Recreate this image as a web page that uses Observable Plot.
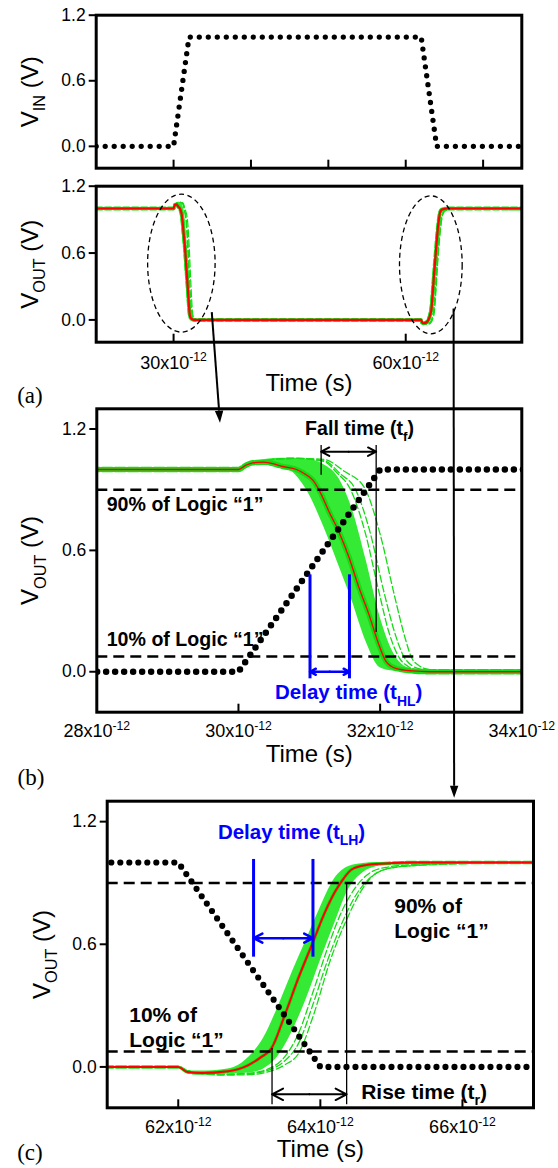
<!DOCTYPE html>
<html><head><meta charset="utf-8">
<script src="https://cdn.jsdelivr.net/npm/d3@7"></script>
<script src="https://cdn.jsdelivr.net/npm/@observablehq/plot@0.6"></script>
<style>
html,body{margin:0;padding:0;background:#fff;}
#wrap{position:relative;width:558px;height:1168px;overflow:hidden;}
</style></head><body><div id="wrap"></div>
<script>
// ---------------- DATA (time in ps, voltage in V) ----------------
const inputT = [20, 30, 32, 62, 64, 75];
const inputV = [0, 0, 1, 1, 0, 0];

const redT = [20, 30.0, 30.1, 30.2, 30.35, 30.5, 30.6, 30.82, 30.95, 31.05, 31.14, 31.28, 31.42, 31.56, 31.70, 31.84, 31.98, 32.08, 32.22, 32.46, 32.7,
  62.0, 62.13, 62.32, 62.7, 62.98, 63.17, 63.31, 63.5, 63.69, 63.88, 64.07, 64.21, 64.30, 64.44, 64.63, 64.92, 65.3, 75];
const redV = [1, 1, 1.02, 1.033, 1.036, 1.028, 1.017, 1.0, 0.975, 0.947, 0.897, 0.79, 0.69, 0.566, 0.417, 0.285, 0.136, 0.053, 0.017, 0.004, 0,
  0, -0.025, -0.03, -0.021, 0.008, 0.049, 0.09, 0.254, 0.434, 0.597, 0.761, 0.859, 0.908, 0.966, 0.987, 0.995, 1.0, 1.0];

// dense Monte-Carlo band (falling edge)
const bandFallT  = [30.0, 30.2, 30.4, 30.6, 30.8, 31.0, 31.2, 31.4, 31.6, 31.8, 32.0, 32.2, 32.4, 32.6, 32.8];
const bandFallLo = [1.0, 1.03, 1.033, 1.013, 0.975, 0.875, 0.72, 0.54, 0.355, 0.15, 0.02, 0.003, 0.0, 0.0, 0.0];
const bandFallHi = [1.0, 1.035, 1.05, 1.055, 1.055, 1.05, 1.025, 0.965, 0.81, 0.555, 0.27, 0.085, 0.018, 0.005, 0.0];
// dense Monte-Carlo band (rising edge)
const bandRiseT  = [62.0, 62.2, 62.4, 62.6, 62.8, 63.0, 63.2, 63.4, 63.6, 63.8, 64.0, 64.2, 64.4, 64.6, 64.8, 65.0, 65.4];
const bandRiseLo = [0, -0.028, -0.034, -0.036, -0.034, -0.03, -0.01, 0.05, 0.17, 0.33, 0.52, 0.70, 0.87, 0.95, 0.98, 0.99, 1.0];
const bandRiseHi = [0, -0.02, -0.02, -0.015, 0.0, 0.05, 0.14, 0.29, 0.46, 0.62, 0.78, 0.92, 0.98, 0.995, 1.0, 1.0, 1.0];

// sparse, late Monte-Carlo curves
const greenFallA = [[30.0,1.0],[30.3,1.04],[30.8,1.055],[31.2,1.05],[31.5,0.99],[31.78,0.909],[32.0,0.68],[32.2,0.38],[32.35,0.17],[32.44,0.073],[32.55,0.03],[32.7,0.01],[32.9,0]];
const greenFallB = [[30.0,1.0],[30.3,1.04],[30.8,1.055],[31.2,1.045],[31.45,0.975],[31.64,0.909],[31.85,0.7],[32.05,0.4],[32.2,0.2],[32.32,0.085],[32.45,0.03],[32.6,0.01],[32.8,0]];
const greenFallC = [[30.0,1.0],[30.3,1.04],[30.8,1.055],[31.2,1.04],[31.4,0.98],[31.57,0.909],[31.78,0.7],[31.98,0.4],[32.12,0.2],[32.26,0.075],[32.4,0.025],[32.55,0.008],[32.75,0]];
const greenRiseA = [[62.0,0],[62.2,-0.025],[62.6,-0.04],[63.0,-0.038],[63.3,-0.02],[63.5,0.01],[63.7,0.07],[63.9,0.25],[64.15,0.532],[64.38,0.728],[64.57,0.859],[64.76,0.941],[65.0,0.974],[65.33,0.985],[65.8,0.992],[66.5,1.0]];
const greenRiseB = [[62.0,0],[62.2,-0.025],[62.6,-0.037],[63.0,-0.033],[63.3,-0.012],[63.5,0.03],[63.7,0.12],[63.9,0.31],[64.1,0.52],[64.3,0.7],[64.5,0.84],[64.7,0.925],[64.95,0.97],[65.3,0.985],[65.8,0.995],[66.3,1.0]];
const greenRiseC = [[62.0,0],[62.2,-0.025],[62.6,-0.036],[63.0,-0.03],[63.3,-0.005],[63.5,0.05],[63.7,0.17],[63.9,0.37],[64.1,0.58],[64.3,0.76],[64.5,0.88],[64.7,0.95],[64.95,0.978],[65.3,0.99],[66.0,1.0]];

// axes
const yTicks = [0, 0.6, 1.2];
const ticksTop = [30, 40, 50, 60, 70];
const ticksA = [30, 60];
const ticksB = [28, 30, 32, 34];
const ticksInB = [30, 32];
const ticksC = [62, 64, 66];
const logicLevels = [0.9, 0.075];

// annotations (data coordinates)
const fallTimeLines = [{t: 31.167, y1: 0.972, y2: 1.118}, {t: 31.944, y1: 0.194, y2: 1.118}];
const fallTimeArrowY = 1.088;
const delayHLLines = [{t: 31.01, y1: -0.035, y2: 0.479}, {t: 31.567, y1: -0.035, y2: 0.479}];
const delayHLArrowY = 0.0;
const delayLHLines = [{t: 63.06, y1: 0.537, y2: 1.015}, {t: 63.896, y1: 0.537, y2: 1.015}];
const delayLHArrowY = 0.63;
const riseTimeLines = [{t: 63.32, y1: -0.185, y2: 0.09}, {t: 64.37, y1: -0.185, y2: 0.9}];
const riseTimeArrowY = -0.134;
const labelsBStart = [{t: 28.14, v: 0.826, s: "90% of Logic “1”"}, {t: 28.14, v: 0.157, s: "10% of Logic “1”"}];
const labelsBMid = [{t: 31.71, v: 1.2, s: "Fall time (t_{f})"}];
const labelsBBlue = [{t: 31.555, v: -0.104, s: "Delay time (t_{HL})"}];
const labelsCStart = [{t: 65.04, v: 0.7325, s: "90% of\nLogic “1”"}, {t: 61.31, v: 0.2, s: "10% of\nLogic “1”"}];
const labelsCMid = [{t: 65.46, v: -0.123, s: "Rise time (t_{r})"}];
const labelsCBlue = [{t: 63.594, v: 1.146, s: "Delay time (t_{LH})"}];
const zoomRegions = [{t: 31.07, v: 0.505, dt: 4.36, dv: 0.619}, {t: 63.31, v: 0.49, dt: 4.05, dv: 0.619}];
const zoomLinks = [{from: [35.0, 0.066], to: [29.746, 1.229], target: "b"}, {from: [66.25, 0.099], to: [65.89, 1.315], target: "c"}];

// ---------------- BUILD ----------------
const W = 558;
const FONT = "'Liberation Sans', Arial, Helvetica, sans-serif";
const GREEN = "#14dc14", GREEN_FILL = "#34ea34", RED = "#ff0000", BLUE = "#0000ff";
const STYLE = {background: "transparent", fontFamily: FONT, fontSize: "17px", color: "black", overflow: "visible"};

const inputData = inputT.map((t, i) => ({t, v: inputV[i]}));
const redData = redT.map((t, i) => ({t, v: redV[i]}));
const bandFall = bandFallT.map((t, i) => ({t, lo: bandFallLo[i], hi: bandFallHi[i]}));
const bandRise = bandRiseT.map((t, i) => ({t, lo: bandRiseLo[i], hi: bandRiseHi[i]}));
const sparse = [greenFallA, greenFallB, greenFallC, greenRiseA, greenRiseB, greenRiseC];

function axisMarks(P, inTicks, lblTicks, title, titleDx, lblDy, timeDy) {
  const innerW = W - P.ml - P.mr, innerH = P.height - P.mt - P.mb;
  const m = [
    Plot.ruleY(yTicks, {y: d => d, insetLeft: -7, insetRight: innerW, strokeWidth: 2}),
    Plot.text(yTicks, {y: d => d, frameAnchor: "left", dx: -10.5, textAnchor: "end", lineAnchor: "middle", fontSize: 17.5, text: d => d3.format(".1f")(d)}),
    Plot.text([title], {frameAnchor: "left", dx: titleDx, rotate: -90, fontSize: 24, textAnchor: "middle", lineAnchor: "middle"}),
    Plot.ruleX(inTicks, {x: d => d, insetTop: innerH - 8, strokeWidth: 2})
  ];
  if (lblTicks.length) {
    m.push(Plot.text(lblTicks, {x: d => d, frameAnchor: "bottom", dy: lblDy, lineAnchor: "middle", fontSize: 18, text: d => `${d}x10^{-12}`}));
    m.push(Plot.text(["Time (s)"], {frameAnchor: "bottom", dy: timeDy, fontSize: 24, lineAnchor: "middle"}));
  }
  return m;
}

function outputMarks(o) {
  return [
    Plot.areaY(bandFall, {x: "t", y1: "lo", y2: "hi", fill: GREEN_FILL, curve: "monotone-x", clip: true}),
    Plot.areaY(bandRise, {x: "t", y1: "lo", y2: "hi", fill: GREEN_FILL, curve: "monotone-x", clip: true}),
    ...sparse.map(c => Plot.line(c, {x: d => d[0], y: d => d[1], stroke: GREEN, strokeWidth: o.sparseW, strokeDasharray: "7,3", curve: "monotone-x", clip: true})),
    Plot.line(redData, {x: "t", y: "v", stroke: GREEN, strokeWidth: o.underW, strokeDasharray: o.underDash, curve: "monotone-x", clip: true}),
    Plot.line(redData, {x: "t", y: "v", stroke: RED, strokeWidth: o.redW, curve: "monotone-x", clip: true})
  ];
}

function dblArrow(lines, y, color, w) {
  const a = lines[0].t, b = lines[1].t, mid = (a + b) / 2;
  return Plot.arrow([{x1: mid, x2: a}, {x1: mid, x2: b}], {x1: "x1", x2: "x2", y1: y, y2: y, stroke: color, strokeWidth: w, headLength: 10, headAngle: 55});
}

function place(svg, top) {
  svg.style.position = "absolute"; svg.style.left = "0px"; svg.style.top = top + "px";
  svg.style.maxWidth = "none"; svg.style.height = svg.getAttribute("height") + "px";
  return svg;
}
const SERIF = "'Liberation Serif', 'Times New Roman', serif";

// Panel 1 : V_IN
const P1 = {top: 0, height: 175, mt: 14.7, mb: 7.3, ml: 95.7, mr: 36.7};
const p1 = Plot.plot({
  width: W, height: P1.height, marginTop: P1.mt, marginBottom: P1.mb, marginLeft: P1.ml, marginRight: P1.mr,
  x: {domain: [20, 75], axis: null}, y: {domain: [-0.2, 1.2], axis: null}, style: STYLE,
  marks: [
    Plot.line(inputData, {x: "t", y: "v", strokeWidth: 5.3, strokeDasharray: "0 9", strokeLinecap: "round", strokeLinejoin: "round", clip: true}),
    ...axisMarks(P1, ticksTop, [], "V_{IN} (V)", -65.7),
    Plot.frame({strokeWidth: 3})
  ]
});

// Panel a : V_OUT overview
const PA = {top: 170, height: 240, mt: 15.7, mb: 68.3, ml: 95.7, mr: 36.7};
const pa = Plot.plot({
  width: W, height: PA.height, marginTop: PA.mt, marginBottom: PA.mb, marginLeft: PA.ml, marginRight: PA.mr,
  x: {domain: [20, 75], axis: null}, y: {domain: [-0.2, 1.2], axis: null}, style: STYLE,
  marks: [
    ...outputMarks({sparseW: 1.2, underW: 4, underDash: "6,3", redW: 2.2}),
    ...axisMarks(PA, ticksA, ticksA, "V_{OUT} (V)", -65.7, 21, 41),
    Plot.frame({strokeWidth: 3}),
    Plot.text(["(a)"], {frameAnchor: "bottom-left", dx: -79, dy: 53.3, textAnchor: "start", lineAnchor: "middle", fontFamily: SERIF, fontSize: 23})
  ]
});

// Panel b : falling edge zoom
const PB = {top: 400, height: 392, mt: 8.3, mb: 80.3, ml: 96.3, mr: 36.7};
const pb = Plot.plot({
  width: W, height: PB.height, marginTop: PB.mt, marginBottom: PB.mb, marginLeft: PB.ml, marginRight: PB.mr,
  x: {domain: [28, 34], axis: null}, y: {domain: [-0.2, 1.3], axis: null}, style: STYLE,
  marks: [
    ...outputMarks({sparseW: 1.3, underW: 5.5, underDash: "10,3", redW: 1.3}),
    Plot.line(inputData, {x: "t", y: "v", strokeWidth: 6.5, strokeDasharray: "0 9", strokeLinecap: "round", strokeLinejoin: "round", clip: true}),
    Plot.ruleY(logicLevels, {y: d => d, strokeDasharray: "11,6", strokeWidth: 2.5}),
    Plot.ruleX(fallTimeLines, {x: "t", y1: "y1", y2: "y2", strokeWidth: 1.3}),
    dblArrow(fallTimeLines, fallTimeArrowY, "black", 2),
    Plot.ruleX(delayHLLines, {x: "t", y1: "y1", y2: "y2", stroke: BLUE, strokeWidth: 3}),
    dblArrow(delayHLLines, delayHLArrowY, BLUE, 2.5),
    Plot.text(labelsBStart, {x: "t", y: "v", text: "s", textAnchor: "start", lineAnchor: "middle", fontWeight: "bold", fontSize: 19.6}),
    Plot.text(labelsBMid, {x: "t", y: "v", text: "s", textAnchor: "middle", lineAnchor: "middle", fontWeight: "bold", fontSize: 19.6}),
    Plot.text(labelsBBlue, {x: "t", y: "v", text: "s", textAnchor: "middle", lineAnchor: "middle", fontWeight: "bold", fontSize: 20.5, fill: BLUE}),
    ...axisMarks(PB, ticksInB, ticksB, "V_{OUT} (V)", -66, 19.3, 41.8),
    Plot.frame({strokeWidth: 3}),
    Plot.text(["(b)"], {frameAnchor: "bottom-left", dx: -79.3, dy: 65.3, textAnchor: "start", lineAnchor: "middle", fontFamily: SERIF, fontSize: 23})
  ]
});

// Panel c : rising edge zoom
const PC = {top: 790, height: 378, mt: 10.7, mb: 60.7, ml: 106.7, mr: 25};
const pc = Plot.plot({
  width: W, height: PC.height, marginTop: PC.mt, marginBottom: PC.mb, marginLeft: PC.ml, marginRight: PC.mr,
  x: {domain: [61, 67], axis: null}, y: {domain: [-0.2, 1.3], axis: null}, style: STYLE,
  marks: [
    ...outputMarks({sparseW: 1.3, underW: 3.5, underDash: "10,3", redW: 2}),
    Plot.line(inputData, {x: "t", y: "v", strokeWidth: 6.2, strokeDasharray: "0 9", strokeLinecap: "round", strokeLinejoin: "round", clip: true}),
    Plot.ruleY(logicLevels, {y: d => d, strokeDasharray: "11,6", strokeWidth: 2.5}),
    Plot.ruleX(riseTimeLines, {x: "t", y1: "y1", y2: "y2", strokeWidth: 1.3}),
    dblArrow(riseTimeLines, riseTimeArrowY, "black", 2),
    Plot.ruleX(delayLHLines, {x: "t", y1: "y1", y2: "y2", stroke: BLUE, strokeWidth: 3}),
    dblArrow(delayLHLines, delayLHArrowY, BLUE, 2.5),
    Plot.text(labelsCStart, {x: "t", y: "v", text: "s", textAnchor: "start", lineAnchor: "middle", fontWeight: "bold", fontSize: 21, lineHeight: 1.2}),
    Plot.text(labelsCMid, {x: "t", y: "v", text: "s", textAnchor: "middle", lineAnchor: "middle", fontWeight: "bold", fontSize: 21}),
    Plot.text(labelsCBlue, {x: "t", y: "v", text: "s", textAnchor: "middle", lineAnchor: "middle", fontWeight: "bold", fontSize: 20.5, fill: BLUE}),
    ...axisMarks(PC, ticksC, ticksC, "V_{OUT} (V)", -65, 19.5, 41.5),
    Plot.frame({strokeWidth: 3}),
    Plot.text(["(c)"], {frameAnchor: "bottom-left", dx: -90, dy: 44.7, textAnchor: "start", lineAnchor: "middle", fontFamily: SERIF, fontSize: 23})
  ]
});

const wrap = document.getElementById("wrap");
wrap.appendChild(place(p1, P1.top));
wrap.appendChild(place(pa, PA.top));
wrap.appendChild(place(pb, PB.top));
wrap.appendChild(place(pc, PC.top));

// ------------- overlay: zoom ellipses and connecting arrows -------------
const panels = {a: {svg: pa, top: PA.top}, b: {svg: pb, top: PB.top}, c: {svg: pc, top: PC.top}};
function toPage(p, x, y) { return [p.svg.scale("x").apply(x), p.top + p.svg.scale("y").apply(y)]; }
const ov = d3.create("svg").attr("width", W).attr("height", 1168)
  .style("position", "absolute").style("left", "0px").style("top", "0px").style("pointer-events", "none");
zoomRegions.forEach(e => {
  const [cx, cy] = toPage(panels.a, e.t, e.v);
  const [ex] = toPage(panels.a, e.t + e.dt, e.v);
  const [, ey] = toPage(panels.a, e.t, e.v + e.dv);
  ov.append("ellipse").attr("cx", cx).attr("cy", cy).attr("rx", Math.abs(ex - cx)).attr("ry", Math.abs(cy - ey))
    .attr("fill", "none").attr("stroke", "black").attr("stroke-width", 1.3).attr("stroke-dasharray", "5,3.5");
});
zoomLinks.forEach(l => {
  const [x1, y1] = toPage(panels.a, l.from[0], l.from[1]);
  const [x2, y2] = toPage(panels[l.target], l.to[0], l.to[1]);
  const ang = Math.atan2(y2 - y1, x2 - x1), L = 12, H = 4.2;
  const bx = x2 - L * Math.cos(ang), by = y2 - L * Math.sin(ang);
  ov.append("line").attr("x1", x1).attr("y1", y1).attr("x2", bx).attr("y2", by).attr("stroke", "black").attr("stroke-width", 2);
  ov.append("path").attr("d", `M${x2},${y2}L${bx + H * Math.sin(ang)},${by - H * Math.cos(ang)}L${bx - H * Math.sin(ang)},${by + H * Math.cos(ang)}Z`).attr("fill", "black");
});
wrap.appendChild(ov.node());

// ------------- sub/superscript markup -> tspans -------------
function richify(root) {
  root.querySelectorAll("text").forEach(t => {
    const targets = t.querySelector("tspan") ? [...t.querySelectorAll("tspan")] : [t];
    targets.forEach(el => {
      const s = el.textContent;
      if (!/[_^]\{/.test(s)) return;
      const fs = parseFloat(getComputedStyle(el).fontSize) || 17;
      el.textContent = "";
      const re = /([_^])\{([^}]*)\}/g;
      let last = 0, m, shift = 0;
      const add = (str, kind) => {
        const ts = document.createElementNS("http://www.w3.org/2000/svg", "tspan");
        ts.textContent = str;
        const target = kind === "_" ? fs * 0.3 : kind === "^" ? -fs * 0.42 : 0;
        const dy = target - shift;
        if (dy) ts.setAttribute("dy", dy);
        shift = target;
        if (kind) ts.setAttribute("font-size", (fs * 0.68).toFixed(1));
        el.appendChild(ts);
      };
      while ((m = re.exec(s))) {
        if (m.index > last) add(s.slice(last, m.index), null);
        add(m[2], m[1]);
        last = re.lastIndex;
      }
      if (last < s.length) add(s.slice(last), null);
    });
  });
}
richify(wrap);
</script></body></html>
